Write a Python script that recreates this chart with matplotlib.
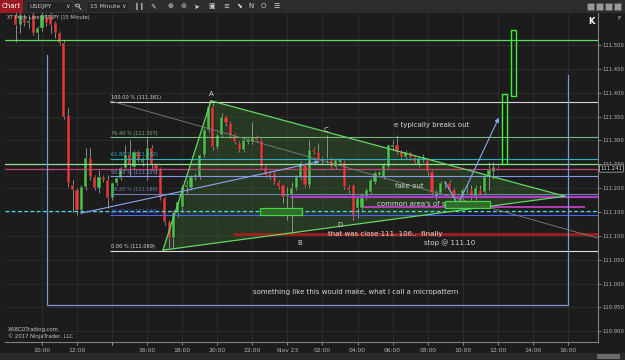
import numpy as np
import matplotlib
matplotlib.use("Agg")
import matplotlib.pyplot as plt
import matplotlib.transforms as mtransforms
from matplotlib.patches import Rectangle, Polygon, Circle
from matplotlib.lines import Line2D

# USDJPY 15 minute bars, time in hours counted from Nov 22 00:00
bar_start = 8.5
bar_step = 0.25

opens = [
    111.563, 111.542, 111.555, 111.545, 111.563, 111.525, 111.536, 111.557, 111.563, 111.546,
    111.525, 111.504, 111.353, 111.206, 111.196, 111.154, 111.202, 111.263, 111.223, 111.200,
    111.223, 111.217, 111.179, 111.211, 111.221, 111.242, 111.269, 111.244, 111.276, 111.255,
    111.259, 111.284, 111.248, 111.240, 111.179, 111.129, 111.095, 111.148, 111.160, 111.202,
    111.200, 111.223, 111.223, 111.269, 111.322, 111.370, 111.286, 111.311, 111.349, 111.336,
    111.311, 111.295, 111.280, 111.297, 111.297, 111.307, 111.301, 111.244, 111.230, 111.232,
    111.213, 111.206, 111.181, 111.186, 111.200, 111.221, 111.248, 111.206, 111.280, 111.276,
    111.259, 111.260, 111.259, 111.244, 111.255, 111.255, 111.202, 111.206, 111.158, 111.158,
    111.179, 111.192, 111.213, 111.227, 111.223, 111.244, 111.286, 111.290, 111.276, 111.265,
    111.274, 111.265, 111.248, 111.259, 111.259, 111.234, 111.181, 111.190, 111.209, 111.211,
    111.196, 111.181, 111.181, 111.198, 111.196, 111.181, 111.196, 111.192, 111.227, 111.234,
    111.242]
closes = [
    111.542, 111.563, 111.545, 111.550, 111.525, 111.536, 111.563, 111.546, 111.542, 111.525,
    111.504, 111.349, 111.211, 111.196, 111.154, 111.202, 111.263, 111.223, 111.200, 111.223,
    111.217, 111.179, 111.211, 111.221, 111.242, 111.269, 111.248, 111.276, 111.259, 111.259,
    111.284, 111.248, 111.240, 111.179, 111.129, 111.095, 111.148, 111.170, 111.202, 111.206,
    111.223, 111.227, 111.269, 111.322, 111.370, 111.286, 111.311, 111.349, 111.336, 111.311,
    111.297, 111.280, 111.301, 111.301, 111.307, 111.301, 111.244, 111.227, 111.223, 111.213,
    111.202, 111.181, 111.186, 111.200, 111.223, 111.253, 111.206, 111.280, 111.276, 111.259,
    111.260, 111.259, 111.244, 111.259, 111.259, 111.202, 111.196, 111.139, 111.179, 111.186,
    111.196, 111.217, 111.232, 111.234, 111.248, 111.290, 111.290, 111.276, 111.265, 111.276,
    111.263, 111.255, 111.263, 111.265, 111.234, 111.190, 111.190, 111.211, 111.213, 111.196,
    111.181, 111.177, 111.196, 111.200, 111.179, 111.200, 111.186, 111.223, 111.238, 111.244,
    111.241]
highs = [
    111.575, 111.575, 111.565, 111.560, 111.575, 111.540, 111.575, 111.565, 111.570, 111.550,
    111.530, 111.510, 111.368, 111.217, 111.200, 111.206, 111.284, 111.284, 111.227, 111.238,
    111.227, 111.227, 111.213, 111.223, 111.246, 111.290, 111.301, 111.280, 111.280, 111.265,
    111.307, 111.290, 111.253, 111.244, 111.183, 111.133, 111.154, 111.175, 111.206, 111.217,
    111.227, 111.232, 111.272, 111.325, 111.383, 111.378, 111.315, 111.357, 111.353, 111.340,
    111.315, 111.299, 111.305, 111.305, 111.339, 111.311, 111.305, 111.248, 111.236, 111.236,
    111.217, 111.209, 111.202, 111.213, 111.227, 111.257, 111.253, 111.301, 111.286, 111.295,
    111.265, 111.311, 111.265, 111.263, 111.263, 111.259, 111.206, 111.209, 111.183, 111.190,
    111.200, 111.221, 111.236, 111.236, 111.253, 111.292, 111.301, 111.311, 111.280, 111.280,
    111.278, 111.269, 111.267, 111.272, 111.263, 111.238, 111.196, 111.215, 111.215, 111.217,
    111.200, 111.186, 111.200, 111.206, 111.206, 111.206, 111.206, 111.227, 111.255, 111.255,
    111.246]
lows = [
    111.506, 111.525, 111.540, 111.535, 111.520, 111.510, 111.530, 111.540, 111.525, 111.515,
    111.500, 111.345, 111.202, 111.150, 111.143, 111.148, 111.196, 111.217, 111.196, 111.190,
    111.213, 111.158, 111.175, 111.206, 111.217, 111.238, 111.223, 111.240, 111.255, 111.246,
    111.217, 111.238, 111.234, 111.175, 111.123, 111.075, 111.072, 111.140, 111.150, 111.190,
    111.196, 111.217, 111.219, 111.265, 111.318, 111.280, 111.282, 111.307, 111.330, 111.305,
    111.292, 111.276, 111.276, 111.292, 111.292, 111.297, 111.240, 111.223, 111.219, 111.209,
    111.198, 111.169, 111.133, 111.106, 111.196, 111.217, 111.202, 111.200, 111.272, 111.255,
    111.250, 111.253, 111.240, 111.240, 111.250, 111.198, 111.190, 111.133, 111.137, 111.154,
    111.175, 111.188, 111.209, 111.223, 111.219, 111.240, 111.280, 111.272, 111.261, 111.261,
    111.259, 111.250, 111.244, 111.255, 111.227, 111.186, 111.175, 111.186, 111.200, 111.192,
    111.175, 111.175, 111.177, 111.190, 111.175, 111.175, 111.186, 111.186, 111.196, 111.219,
    111.238]

last_price = 111.241

price_ticks = [111.50, 111.45, 111.40, 111.35, 111.30, 111.25, 111.20,
               111.15, 111.10, 111.05, 111.00, 110.95, 110.90]
time_ticks = [10, 12, 16, 18, 20, 22, 24, 26, 28, 30, 32, 34, 36, 38, 40]
time_labels = ["10:00", "12:00", "16:00", "18:00", "20:00", "22:00", "Nov 23",
               "02:00", "04:00", "06:00", "08:00", "10:00", "12:00", "14:00", "16:00"]

# fibonacci retracement
fib_pct = ["100.00", "76.40", "61.80", "50.00", "38.20", "23.60", "0.00"]
fib_prices = [111.381, 111.307, 111.262, 111.225, 111.188, 111.143, 111.069]
fib_colors = ["#d8d8d8", "#78b878", "#2fb0c0", "#8898e8", "#7080b0", "#4a64ff", "#e0e0e0"]
fib_start = 13.88

# drawing objects
triangle_t = [16.90, 19.64, 39.83]
triangle_p = [111.070, 111.383, 111.183]
u_box_t = [10.29, 10.29, 40.0, 40.0]
u_box_p = [111.479, 110.955, 110.955, 111.437]
gray_ray_t = [13.88, 41.72]
gray_ray_p = [111.383, 111.095]
blue_trend_t = [12.05, 25.97]
blue_trend_p = [111.146, 111.257]
zigzag_t = [32.99, 33.73, 36.13]
zigzag_p = [111.213, 111.165, 111.353]
support_boxes = [(22.44, 24.83, 111.144, 111.158), (32.99, 35.56, 111.158, 111.173)]
projected_bars = [(36.24, 36.53, 111.251, 111.397), (36.75, 37.04, 111.393, 111.531)]

bg = "#1c1c1c"
up_col = "#4cc24c"
dn_col = "#e03a3a"
txt_col = "#d8d8d8"

fig = plt.figure(figsize=(6.25, 3.6), dpi=100, facecolor=bg)
ax = fig.add_axes([5 / 625, 18 / 360, 593 / 625, 329 / 360])
ax.set_facecolor(bg)
ax.set_xlim(7.889, 41.717)
ax.set_ylim(110.8774, 111.567)

# grid / axes
ax.set_xticks(time_ticks)
ax.set_xticklabels(time_labels)
ax.set_xticks([14], minor=True)
ax.yaxis.tick_right()
ax.set_yticks(price_ticks)
ax.set_yticklabels(["%.3f" % p for p in price_ticks])
ax.tick_params(axis="x", colors="#b8b8b8", labelsize=4.3, length=2, width=0.5, pad=2)
ax.tick_params(axis="y", colors="#b8b8b8", labelsize=3.8, length=2, width=0.5, pad=1.5)
ax.tick_params(which="minor", length=2, color="#b8b8b8")
ax.grid(True, which="both", color="#2f2f2f", lw=0.6)
ax.set_axisbelow(True)
for s in ["top", "left"]:
    ax.spines[s].set_visible(False)
for s in ["right", "bottom"]:
    ax.spines[s].set_color("#808080")
    ax.spines[s].set_linewidth(0.8)

# triangle shading
tri = Polygon(list(zip(triangle_t, triangle_p)), closed=True, facecolor="#3a6a30",
              alpha=0.38, edgecolor="none", zorder=1)
ax.add_patch(tri)

# candles
times = bar_start + bar_step * np.arange(len(opens))
o = np.array(opens)
c = np.array(closes)
ax.vlines(times, lows, highs, color="#9c9c9c", lw=0.6, zorder=3)
colors = [up_col if cc >= oo else dn_col for oo, cc in zip(o, c)]
body_lo = np.minimum(o, c)
body_h = np.maximum(np.abs(c - o), 0.002)
ax.bar(times, body_h, bottom=body_lo, width=0.18, color=colors,
       edgecolor="#121212", lw=0.3, zorder=4)

# horizontal lines across the chart
ax.axhline(111.510, color="#5ee05e", lw=0.9, zorder=5)
ax.axhline(111.251, color="#8fe08f", lw=0.9, zorder=5)
ax.axhline(111.240, color="#c8407a", lw=0.9, zorder=5)
ax.axhline(111.152, color="#48e0e8", lw=0.9, ls=(0, (3, 2)), zorder=5)

# fib levels
for pct, pr, col in zip(fib_pct, fib_prices, fib_colors):
    ax.hlines(pr, fib_start, 41.72, color=col, lw=0.8, zorder=5)
    ax.text(fib_start + 0.05, pr + 0.003, "%s %% (%.3f)" % (pct, pr), color=col,
            fontsize=3.6, va="bottom", ha="left", zorder=6)

# magenta / red levels
ax.hlines(111.181, 24.15, 41.72, color="#b23cc8", lw=1.6, zorder=5)
ax.hlines(111.160, 28.31, 40.98, color="#d040d0", lw=1.2, zorder=5)
ax.hlines(111.104, 20.90, 41.72, color="#b01c1c", lw=1.8, zorder=5)

# triangle edges
ax.plot([triangle_t[0], triangle_t[1]], [triangle_p[0], triangle_p[1]], color="#62d862", lw=0.9, zorder=5)
ax.plot([triangle_t[1], triangle_t[2]], [triangle_p[1], triangle_p[2]], color="#62d862", lw=0.9, zorder=5)
ax.plot([triangle_t[0], triangle_t[2]], [triangle_p[0], triangle_p[2]], color="#62d862", lw=0.9, zorder=5)

# other drawing objects
ax.plot(u_box_t, u_box_p, color="#7d96d8", lw=0.9, zorder=5)
ax.plot(gray_ray_t, gray_ray_p, color="#808080", lw=0.6, zorder=5)
ax.annotate("", xy=(blue_trend_t[1], blue_trend_p[1]), xytext=(blue_trend_t[0], blue_trend_p[0]),
            arrowprops=dict(arrowstyle="-|>", color="#8aa6f0", lw=0.8, mutation_scale=5), zorder=6)
ax.plot(zigzag_t[:2], zigzag_p[:2], color="#8aa6f0", lw=0.8, zorder=6)
ax.annotate("", xy=(zigzag_t[2], zigzag_p[2]), xytext=(zigzag_t[1], zigzag_p[1]),
            arrowprops=dict(arrowstyle="-|>", color="#8aa6f0", lw=0.8, mutation_scale=6), zorder=6)

for t0, t1, p0, p1 in projected_bars:
    ax.add_patch(Rectangle((t0, p0), t1 - t0, p1 - p0, facecolor="none",
                           edgecolor="#3cf03c", lw=1.0, zorder=6))

# annotations
ax.text(19.64, 111.391, "A", color=txt_col, fontsize=5, ha="center", va="bottom", zorder=7)
ax.text(24.72, 111.085, "B", color=txt_col, fontsize=5, ha="center", va="center", zorder=7)
ax.text(26.20, 111.322, "C", color=txt_col, fontsize=5, ha="center", va="center", zorder=7)
ax.text(27.00, 111.123, "D", color=txt_col, fontsize=5, ha="center", va="center", zorder=7)
ax.text(32.25, 111.332, "e typically breaks out", color=txt_col, fontsize=5, ha="center", va="center", zorder=7)
ax.text(30.94, 111.204, "fake out", color=txt_col, fontsize=5, ha="center", va="center", zorder=7)
ax.text(29.11, 111.167, "common area's of support", color=txt_col, fontsize=5, ha="left", va="center", zorder=7)
ax.text(26.31, 111.104, "that was close 111. 106..  finally", color=txt_col, fontsize=5,
        ha="left", va="center", zorder=7)
ax.text(31.79, 111.085, "stop @ 111.10", color=txt_col, fontsize=5, ha="left", va="center", zorder=7)
ax.text(22.04, 110.982, "something like this would make, what I call a micropattern", color=txt_col,
        fontsize=5, ha="left", va="center", zorder=7)

for t0, t1, p0, p1 in support_boxes:
    ax.add_patch(Rectangle((t0, p0), t1 - t0, p1 - p0, facecolor="#2e6e2a",
                           edgecolor="#44e044", lw=0.9, alpha=0.95, zorder=8))

# last price marker on the price axis
trans = mtransforms.blended_transform_factory(ax.transAxes, ax.transData)
ax.text(1.004, last_price, "%.3f" % last_price, transform=trans, color="white", fontsize=3.8,
        ha="left", va="center", clip_on=False, zorder=10,
        bbox=dict(boxstyle="round,pad=0.2", fc="#050505", ec="#d0d0d0", lw=0.5))

# chart labels
fig.text(7 / 625, 1 - 18 / 360, "XT Price Line USDJPY (15 Minute)", color="#c8c8c8",
         fontsize=3.6, va="center")
fig.text(8 / 625, 1 - 329 / 360, "XABCDTrading.com", color="#c8c8c8", fontsize=3.8, va="center")
fig.text(8 / 625, 1 - 336 / 360, "\u00a9 2017 NinjaTrader, LLC", color="#c8c8c8", fontsize=3.8, va="center")
fig.text(619 / 625, 1 - 19 / 360, "F", color="#c8c8c8", fontsize=4.5, ha="center", va="center")
fig.text(591 / 625, 1 - 21 / 360, "K", color="white", fontsize=6, fontweight="bold", ha="center", va="center")

# toolbar
fig.add_artist(Rectangle((0, 1 - 13 / 360), 1, 13 / 360, transform=fig.transFigure,
                         facecolor="#2c2c2c", edgecolor="none"))
fig.add_artist(Rectangle((0, 1 - 13 / 360), 23 / 625, 13 / 360, transform=fig.transFigure,
                         facecolor="#9a1c22", edgecolor="none"))
fig.text(11 / 625, 1 - 6.5 / 360, "Chart", color="white", fontsize=5, ha="center", va="center")
fig.add_artist(Rectangle((26 / 625, 1 - 11.5 / 360), 46 / 625, 10 / 360, transform=fig.transFigure,
                         facecolor="#242424", edgecolor="#3c3c3c", lw=0.5))
fig.text(30 / 625, 1 - 6.5 / 360, "USDJPY", color="#c8c8c8", fontsize=4.5, va="center")
fig.text(67 / 625, 1 - 6.5 / 360, "\u2228", color="#c8c8c8", fontsize=4.5, va="center", ha="center")
# magnifier icon
fig.add_artist(Circle((77.5 / 625, 1 - 5.5 / 360), 2.2 / 625, transform=fig.transFigure,
                      facecolor="none", edgecolor="#c8c8c8", lw=0.6))
fig.add_artist(Line2D([79 / 625, 81 / 625], [1 - 7.3 / 360, 1 - 9.3 / 360], transform=fig.transFigure,
                      color="#c8c8c8", lw=0.7))
fig.add_artist(Rectangle((86 / 625, 1 - 11.5 / 360), 43 / 625, 10 / 360, transform=fig.transFigure,
                         facecolor="#242424", edgecolor="#3c3c3c", lw=0.5))
fig.text(90 / 625, 1 - 6.5 / 360, "15 Minute", color="#c8c8c8", fontsize=4.3, va="center")
fig.text(124 / 625, 1 - 6.5 / 360, "\u2228", color="#c8c8c8", fontsize=4.5, va="center", ha="center")
icons = ["\u2759\u2759", "\u270e", "\u2295", "\u2296", "\u27a4", "\u25a3", "\u2261", "\u2b0a", "N", "O", "\u2630"]
icon_x = [140, 153, 170, 183, 196, 212, 226, 239, 251, 263, 277]
for ic, xx in zip(icons, icon_x):
    fig.text(xx / 625, 1 - 6.5 / 360, ic, color="#d0d0d0", fontsize=5, va="center", ha="center")
for xx in [587, 596, 605, 614]:
    fig.add_artist(Rectangle((xx / 625, 1 - 10 / 360), 7 / 625, 7 / 360, transform=fig.transFigure,
                             facecolor="#9a9a9a", edgecolor="#505050", lw=0.4))

# scroll bar
fig.add_artist(Rectangle((0, 0), 1, 7 / 360, transform=fig.transFigure,
                         facecolor="#2a2a2a", edgecolor="none"))
fig.add_artist(Rectangle((597 / 625, 1 / 360), 23 / 625, 5 / 360, transform=fig.transFigure,
                         facecolor="#6a6a6a", edgecolor="none"))

fig.savefig("out.png", dpi=100, facecolor=bg)
